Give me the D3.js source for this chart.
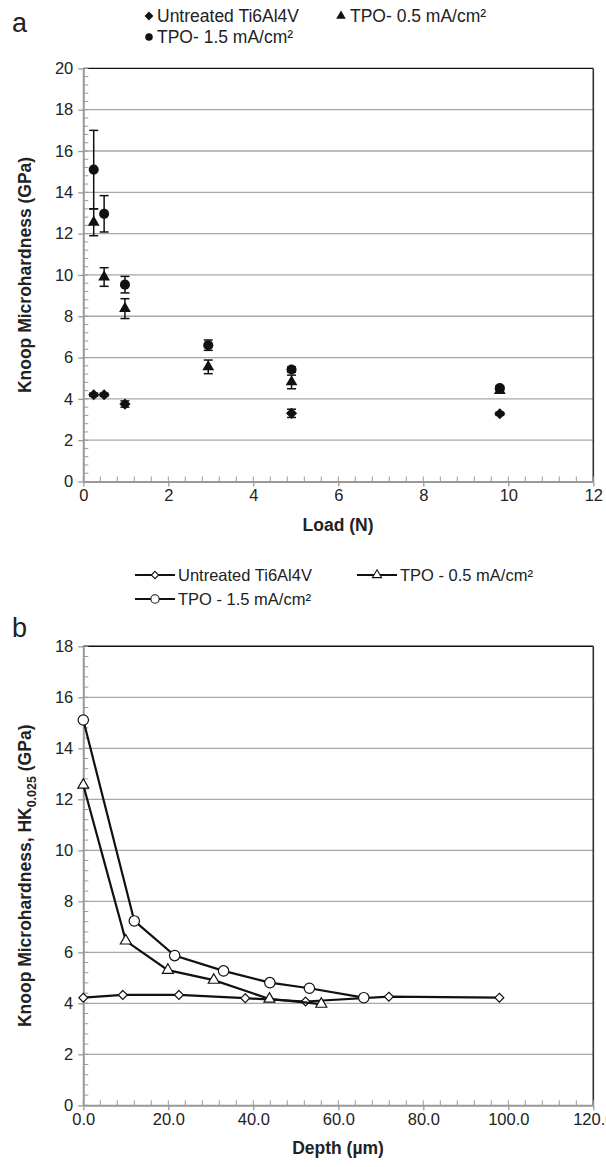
<!DOCTYPE html>
<html><head><meta charset="utf-8">
<script src="https://cdn.jsdelivr.net/npm/d3@7"></script>
<style>html,body{margin:0;padding:0;background:#fff;overflow:hidden}</style>
</head><body><div id="chart"></div>
<script>
// ---------- Panel a data (Load in N) ----------
const aUntreatedX = [0.245, 0.49, 0.98, 4.9, 9.8];
const aUntreatedY = [4.2, 4.2, 3.75, 3.3, 3.28];
const aUntreatedE = [0.08, 0.08, 0.15, 0.2, 0.08];
const aTpo05X = [0.245, 0.49, 0.98, 2.94, 4.9, 9.8];
const aTpo05Y = [12.55, 9.9, 8.37, 5.55, 4.82, 4.4];
const aTpo05E = [0.65, 0.45, 0.48, 0.33, 0.33, 0.1];
const aTpo15X = [0.245, 0.49, 0.98, 2.94, 4.9, 9.8];
const aTpo15Y = [15.1, 12.96, 9.53, 6.6, 5.42, 4.52];
const aTpo15E = [1.9, 0.88, 0.4, 0.25, 0.13, 0.1];
const aXTicks = [0, 2, 4, 6, 8, 10, 12];
const aYTicks = [0, 2, 4, 6, 8, 10, 12, 14, 16, 18, 20];

// ---------- Panel b data (Depth in µm) ----------
const bUntreatedX = [0, 9.3, 22.5, 38.1, 52.3, 71.9, 97.9];
const bUntreatedY = [4.22, 4.33, 4.33, 4.2, 4.07, 4.26, 4.22];
const bTpo05X = [0, 10.0, 19.9, 30.7, 43.8, 56.0];
const bTpo05Y = [12.56, 6.45, 5.3, 4.91, 4.17, 3.97];
const bTpo15X = [0, 12.0, 21.5, 33.0, 43.9, 53.2, 66.0];
const bTpo15Y = [15.11, 7.23, 5.87, 5.27, 4.81, 4.59, 4.22];
const bXTicks = [0, 20, 40, 60, 80, 100, 120];
const bYTicks = [0, 2, 4, 6, 8, 10, 12, 14, 16, 18];

const seriesNames = ["Untreated Ti6Al4V", "TPO- 0.5 mA/cm²", "TPO- 1.5 mA/cm²"];
const seriesNamesB = ["Untreated Ti6Al4V", "TPO - 0.5 mA/cm²", "TPO - 1.5 mA/cm²"];

const FONT = "'Liberation Sans', Arial, Helvetica, sans-serif";
const TXT = "#222";
const svg = d3.select("#chart").append("svg").attr("width", 606).attr("height", 1167)
  .style("font-family", FONT);

const symDiamond = d3.symbol().type(d3.symbolDiamond2);
const symTri = d3.symbol().type(d3.symbolTriangle);
const symCircle = d3.symbol().type(d3.symbolCircle);

function drawFrame(x, y, xTicks, yTicks, xMinor, yMinor, xFmt) {
  const g = svg.append("g");
  const [x0, x1] = x.range();
  const [yb, yt] = y.range();
  g.selectAll(".grid").data(yTicks.filter(v => v > 0 && v < y.domain()[1])).join("line")
    .attr("x1", x0).attr("x2", x1).attr("y1", d => y(d)).attr("y2", d => y(d))
    .attr("stroke", "#a8a8a8").attr("stroke-width", 1.3);
  g.append("line").attr("x1", x0).attr("x2", x1).attr("y1", yt).attr("y2", yt).attr("stroke", "#111").attr("stroke-width", 1.4);
  g.append("line").attr("x1", x1).attr("x2", x1).attr("y1", yt).attr("y2", yb).attr("stroke", "#333").attr("stroke-width", 1.6);
  const ymin = d3.range(0, y.domain()[1] + 1e-9, yMinor);
  g.selectAll(".ym").data(ymin).join("line")
    .attr("x1", x0).attr("x2", x0 + 5).attr("y1", d => y(d)).attr("y2", d => y(d))
    .attr("stroke", "#999").attr("stroke-width", 1);
  const xmin = d3.range(0, x.domain()[1] + 1e-9, xMinor);
  g.selectAll(".xm").data(xmin).join("line")
    .attr("x1", d => x(d)).attr("x2", d => x(d)).attr("y1", yb).attr("y2", yb - 5)
    .attr("stroke", "#999").attr("stroke-width", 1);
  const ax = g.append("g").attr("transform", `translate(0,${yb})`)
    .call(d3.axisBottom(x).tickValues(xTicks).tickSize(5).tickSizeOuter(0).tickPadding(3).tickFormat(xFmt));
  const ay = g.append("g").attr("transform", `translate(${x0},0)`)
    .call(d3.axisLeft(y).tickValues(yTicks).tickSize(5).tickSizeOuter(0).tickPadding(5).tickFormat(d3.format("d")));
  [ax, ay].forEach(a => {
    a.select(".domain").attr("stroke", "#999").attr("stroke-width", 2);
    a.selectAll(".tick line").attr("stroke", "#999").attr("stroke-width", 1.3);
    a.selectAll(".tick text").attr("fill", TXT).style("font-size", "16.5px").style("font-family", FONT);
  });
  return g;
}

// ================= Panel a =================
const xa = d3.scaleLinear().domain([0, 12]).range([83.3, 593.3]);
const ya = d3.scaleLinear().domain([0, 20]).range([481.5, 68.4]);
drawFrame(xa, ya, aXTicks, aYTicks, 0.4, 0.4, d3.format("d"));

function errBars(xs, ys, es, x, y) {
  const data = xs.map((v, i) => ({x: v, y: ys[i], e: es[i]}));
  const g = svg.append("g").attr("stroke", "#111").attr("stroke-width", 1.5);
  data.forEach(d => {
    const cx = x(d.x);
    g.append("line").attr("x1", cx).attr("x2", cx).attr("y1", y(d.y - d.e)).attr("y2", y(d.y + d.e));
    g.append("line").attr("x1", cx - 4.5).attr("x2", cx + 4.5).attr("y1", y(d.y - d.e)).attr("y2", y(d.y - d.e));
    g.append("line").attr("x1", cx - 4.5).attr("x2", cx + 4.5).attr("y1", y(d.y + d.e)).attr("y2", y(d.y + d.e));
  });
}
errBars(aTpo15X, aTpo15Y, aTpo15E, xa, ya);
errBars(aTpo05X, aTpo05Y, aTpo05E, xa, ya);
errBars(aUntreatedX, aUntreatedY, aUntreatedE, xa, ya);

function filledPts(xs, ys, sym, size, x, y) {
  svg.append("g").selectAll("path").data(xs.map((v, i) => [v, ys[i]])).join("path")
    .attr("d", sym.size(size)())
    .attr("transform", d => `translate(${x(d[0])},${y(d[1])})`)
    .attr("fill", "#111");
}
filledPts(aTpo15X, aTpo15Y, symCircle, 80, xa, ya);
filledPts(aTpo05X, aTpo05Y, symTri, 60, xa, ya);
filledPts(aUntreatedX, aUntreatedY, symDiamond, 80, xa, ya);

function legA(sym, size, mx, tx, cy, label) {
  svg.append("path").attr("d", sym.size(size)()).attr("transform", `translate(${mx},${cy})`).attr("fill", "#111");
  svg.append("text").attr("x", tx).attr("y", cy).attr("dy", "0.36em").attr("fill", TXT)
    .style("font-size", "17.5px").text(label);
}
legA(symDiamond, 50, 149, 157, 16, seriesNames[0]);
legA(symTri, 40, 341, 350, 16, seriesNames[1]);
legA(symCircle, 45, 149, 157, 37, seriesNames[2]);

svg.append("text").attr("x", 12).attr("y", 32).attr("fill", TXT).style("font-size", "27px").text("a");
svg.append("text").attr("x", 338).attr("y", 531).attr("text-anchor", "middle").attr("fill", TXT)
  .style("font-size", "17.5px").style("font-weight", "bold").text("Load (N)");
svg.append("text").attr("transform", `translate(31,${(68.4 + 481.5) / 2}) rotate(-90)`)
  .attr("text-anchor", "middle").attr("fill", TXT)
  .style("font-size", "17.5px").style("font-weight", "bold").text("Knoop Microhardness (GPa)");

// ================= Panel b =================
const xb = d3.scaleLinear().domain([0, 120]).range([83.3, 593.3]);
const yb = d3.scaleLinear().domain([0, 18]).range([1105.3, 646.3]);
drawFrame(xb, yb, bXTicks, bYTicks, 4, 0.4, d3.format(".1f"));

const line = d3.line().x(d => xb(d[0])).y(d => yb(d[1]));
function lineSeries(xs, ys, sym, size) {
  const pts = xs.map((v, i) => [v, ys[i]]);
  svg.append("path").datum(pts).attr("d", line).attr("fill", "none").attr("stroke", "#111").attr("stroke-width", 2.2);
  svg.append("g").selectAll("path").data(pts).join("path")
    .attr("d", sym.size(size)())
    .attr("transform", d => `translate(${xb(d[0])},${yb(d[1])})`)
    .attr("fill", "#fff").attr("stroke", "#111").attr("stroke-width", 1.2);
}
lineSeries(bUntreatedX, bUntreatedY, symDiamond, 50);
lineSeries(bTpo05X, bTpo05Y, symTri, 52);
lineSeries(bTpo15X, bTpo15Y, symCircle, 85);

function legB(sym, size, x0, cy, label) {
  svg.append("line").attr("x1", x0).attr("x2", x0 + 40).attr("y1", cy).attr("y2", cy).attr("stroke", "#111").attr("stroke-width", 2);
  svg.append("path").attr("d", sym.size(size)()).attr("transform", `translate(${x0 + 20},${cy})`)
    .attr("fill", "#fff").attr("stroke", "#111").attr("stroke-width", 1.1);
  svg.append("text").attr("x", x0 + 43).attr("y", cy).attr("dy", "0.36em").attr("fill", TXT)
    .style("font-size", "16.5px").text(label);
}
legB(symDiamond, 35, 135, 575, seriesNamesB[0]);
legB(symTri, 35, 357, 575, seriesNamesB[1]);
legB(symCircle, 55, 135, 599, seriesNamesB[2]);

svg.append("text").attr("x", 12).attr("y", 637).attr("fill", TXT).style("font-size", "27px").text("b");
svg.append("text").attr("x", 338).attr("y", 1154).attr("text-anchor", "middle").attr("fill", TXT)
  .style("font-size", "17.5px").style("font-weight", "bold").text("Depth (µm)");
const yt = svg.append("text").attr("transform", `translate(31,${(646.3 + 1105.3) / 2}) rotate(-90)`)
  .attr("text-anchor", "middle").attr("fill", TXT)
  .style("font-size", "17.5px").style("font-weight", "bold");
yt.append("tspan").text("Knoop Microhardness, HK");
yt.append("tspan").attr("dy", 5).style("font-size", "12.5px").text("0.025");
yt.append("tspan").attr("dy", -5).text(" (GPa)");
</script></body></html>
